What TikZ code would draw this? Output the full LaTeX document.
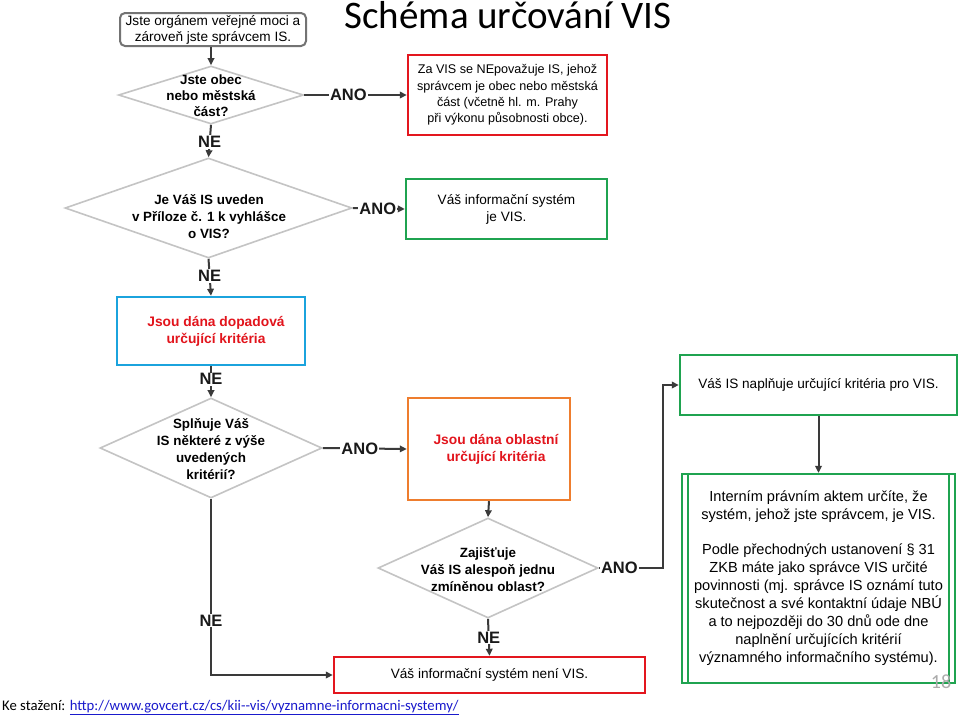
\documentclass[tikz,border=0pt]{standalone}
\usepackage{fontspec}
\setmainfont{Liberation Sans}
\newfontfamily\carlito{Carlito}
\usetikzlibrary{shapes.geometric,arrows.meta}
\definecolor{cred}{HTML}{E3161E}
\definecolor{cgreen}{HTML}{1FA350}
\definecolor{cblue}{HTML}{1BA3DD}
\definecolor{corange}{HTML}{EE7D2E}
\definecolor{cgray}{HTML}{C4C4C4}
\definecolor{cline}{HTML}{3A3A3A}
\definecolor{tred}{HTML}{E2141C}
\definecolor{clink}{HTML}{1A1ACC}
\begin{document}
\begin{tikzpicture}[x=1pt,y=-1pt,
  cbox/.style={rectangle, line width=2.4pt, inner sep=0pt, align=center,
    font=\fontsize{13.6}{17}\selectfont},
  dia/.style={diamond, draw=cgray, line width=1.6pt, inner sep=0pt},
  qtext/.style={font=\bfseries\fontsize{13.4}{17}\selectfont, align=center, inner sep=0pt},
  rtext/.style={font=\bfseries\fontsize{13.8}{17}\selectfont, align=center, text=tred, inner sep=0pt},
  conn/.style={draw=cline, line width=2pt, -{Triangle[length=7pt,width=6.5pt]}},
  lbl/.style={fill=white, inner sep=1pt, font=\bfseries\fontsize{16.5}{18}\selectfont, text=black!90}]
\useasboundingbox[fill=white] (0,0) rectangle (960,716);

% title
\node[font=\carlito\fontsize{39}{39}\selectfont, anchor=base, inner sep=0pt] (title) at (508,28) {Schéma určování VIS};

% top box
\node[cbox, draw=black!55, line width=2pt, rounded corners=5pt, minimum width=186, minimum height=33,
  font=\fontsize{13.6}{16}\selectfont] (tb) at (213,29.5) {Jste orgánem veřejné moci a\\zároveň jste správcem IS.};

% diamond 1
\node[dia, minimum width=185, minimum height=58] (d1) at (211,95) {};
\node[qtext, font=\bfseries\fontsize{13.4}{16}\selectfont] (d1t) at (211,96) {Jste obec\\nebo městská\\část?};

% red box 1
\node[cbox, draw=cred, minimum width=199, minimum height=80, font=\fontsize{12.6}{16.2}\selectfont] (r1) at (507.5,95)
  {Za VIS se NEpovažuje IS, jehož\\správcem je obec nebo městská\\část (včetně hl. m. Prahy\\při výkonu působnosti obce).};

% diamond 2
\node[dia, minimum width=287, minimum height=100] (d2) at (208.5,208) {};
\node[qtext] (d2t) at (209,217) {Je Váš IS uveden\\v Příloze č. 1 k vyhlášce\\o VIS?};

% green box 1
\node[cbox, draw=cgreen, minimum width=201, minimum height=60] (g1) at (506.5,209) {Váš informační systém\\je VIS.};

% blue box
\node[cbox, draw=cblue, minimum width=188, minimum height=68] (bl) at (211,331) {};
\node[rtext] (blt) at (216,331.5) {Jsou dána dopadová\\určující kritéria};

% green box 2
\node[cbox, draw=cgreen, minimum width=277, minimum height=60] (g2) at (818.5,385) {Váš IS naplňuje určující kritéria pro VIS.};

% diamond 3
\node[dia, minimum width=222, minimum height=100] (d3) at (211,448) {};
\node[qtext] (d3t) at (211,449) {Splňuje Váš\\IS některé z výše\\uvedených\\kritérií?};

% orange box
\node[cbox, draw=corange, minimum width=162, minimum height=102] (or) at (489,449) {};
\node[rtext] (ort) at (496,449.5) {Jsou dána oblastní\\určující kritéria};

% diamond 4
\node[dia, minimum width=220, minimum height=100] (d4) at (488,568) {};
\node[qtext] (d4t) at (488,570) {Zajišťuje\\Váš IS alespoň jednu\\zmíněnou oblast?};

% red box 2
\node[cbox, draw=cred, minimum width=311, minimum height=36] (r2) at (489.5,675) {Váš informační systém není VIS.};

% big green box (predefined process)
\node[cbox, draw=cgreen, line width=2.2pt, minimum width=273, minimum height=209, font=\fontsize{14.6}{18}\selectfont] (bb) at (818.5,578.5)
  {Interním právním aktem určíte, že\\systém, jehož jste správcem, je VIS.\\[17pt]Podle přechodných ustanovení § 31\\ZKB máte jako správce VIS určité\\povinnosti (mj. správce IS oznámí tuto\\skutečnost a své kontaktní údaje NBÚ\\a to nejpozději do 30 dnů ode dne\\naplnění určujících kritérií\\významného informačního systému).};
\draw[cgreen, line width=2.2pt] ([xshift=7pt]bb.north west) -- ([xshift=7pt]bb.south west);
\draw[cgreen, line width=2.2pt] ([xshift=-7pt]bb.north east) -- ([xshift=-7pt]bb.south east);

% connectors
\draw[conn] (tb.south -| d1.north) -- (d1.north);
\draw[conn] (d1.east) -- node[lbl, pos=0.43] (l1) {ANO} (r1.west);
\draw[conn] (d1.south) -- node[lbl, pos=0.53] (l2) {NE} (d2.north);
\draw[conn] (d2.east) -- node[lbl, pos=0.48] (l3) {ANO} (g1.west);
\draw[conn] (d2.south) -- node[lbl, pos=0.46] (l4) {NE} (bl.north);
\draw[conn] (bl.south) -- node[lbl, pos=0.42] (l5) {NE} (d3.north);
\draw[conn] (d3.east) -- node[lbl, pos=0.44] (l6) {ANO} (or.west);
\draw[conn] (d3.south) -- node[lbl, pos=0.69] (l7) {NE} (d3.south |- r2.west) -- (r2.west);
\draw[conn] (or.south) -- (d4.north);
\draw[conn] (d4.south) -- node[lbl, pos=0.51] (l8) {NE} (r2.north);
\coordinate (k) at (663,568);
\draw[conn] (d4.east) -- node[lbl, pos=0.32] (l9) {ANO} (k) |- (g2.west);
\draw[conn] (g2.south) -- (bb.north);

% footer
\node[font=\carlito\fontsize{14.7}{16}\selectfont, anchor=base west, inner sep=0pt] (foot) at (2,710)
  {Ke stažení: \textcolor{clink}{\underline{http://www.govcert.cz/cs/kii-{}-vis/vyznamne-informacni-systemy/}}};
\node[font=\carlito\fontsize{20}{20}\selectfont, text=black!33, inner sep=0pt] (pg) at (941,682) {18};
\end{tikzpicture}
\end{document}
